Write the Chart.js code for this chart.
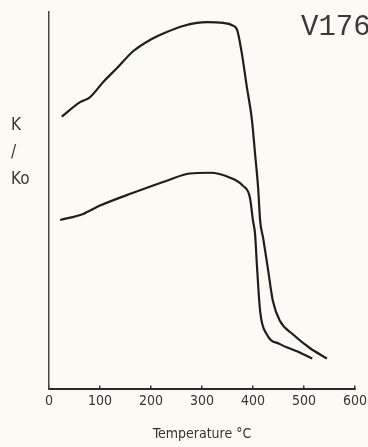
<!DOCTYPE html>
<html>
<head>
<meta charset="utf-8">
<script src="https://cdn.jsdelivr.net/npm/chart.js@4/dist/chart.umd.min.js"></script>
<style>
  html, body { margin: 0; padding: 0; background: #fbfaf5; }
  #wrap { position: relative; width: 368px; height: 447px; }
  canvas { position: absolute; left: 0; top: 0; }
  .lbl { position: absolute; color: #3a3a3a; white-space: nowrap; }
  #code { left: 301px; top: 11px; font-family: "Liberation Mono", "DejaVu Sans Mono", monospace; font-size: 29px; color: #3a3a3a; }
  #ylab { left: 11px; top: 111px; font-family: "DejaVu Sans Condensed", "DejaVu Sans", sans-serif; font-size: 17px; line-height: 27px; }
</style>
</head>
<body>
<div id="wrap">
  <canvas id="c" width="368" height="447"></canvas>
  <div class="lbl" id="code">V176</div>
  <div class="lbl" id="ylab">K<br>/<br>Ko</div>
</div>
<script>
// Temperature (°C) and relative susceptibility K/Ko
const upperTemp = [25, 61, 80, 106, 133, 165, 198, 231, 263, 290, 310, 341, 359, 369, 378, 388, 398, 404, 410, 414, 420, 429, 439, 453, 478, 512, 545];
const upperK    = [0.723, 0.761, 0.774, 0.814, 0.851, 0.896, 0.926, 0.947, 0.963, 0.971, 0.973, 0.971, 0.965, 0.952, 0.891, 0.801, 0.713, 0.625, 0.535, 0.447, 0.400, 0.322, 0.234, 0.181, 0.146, 0.109, 0.082];
const lowerTemp = [22, 67, 100, 165, 231, 276, 316, 355, 380, 394, 400, 404, 408, 414, 427, 453, 486, 516];
const lowerK    = [0.449, 0.465, 0.487, 0.521, 0.553, 0.572, 0.574, 0.561, 0.540, 0.508, 0.447, 0.412, 0.322, 0.207, 0.146, 0.120, 0.101, 0.082];
const xTicks = [0, 100, 200, 300, 400, 500, 600];

function pts(xs, ys) { return xs.map((x, i) => ({ x: x, y: ys[i] })); }

const lineStyle = { borderColor: '#1e1e1e', borderWidth: 2.2, pointRadius: 0, cubicInterpolationMode: 'monotone', fill: false };
const fontFam = "'DejaVu Sans Condensed', 'DejaVu Sans', sans-serif";

new Chart(document.getElementById('c'), {
  type: 'line',
  data: {
    datasets: [
      Object.assign({ label: 'upper', data: pts(upperTemp, upperK) }, lineStyle),
      Object.assign({ label: 'lower', data: pts(lowerTemp, lowerK) }, lineStyle)
    ]
  },
  options: {
    responsive: false,
    animation: false,
    layout: { padding: { left: 49, right: 13, top: 12, bottom: 4 } },
    plugins: { legend: { display: false }, tooltip: { enabled: false } },
    scales: {
      x: {
        type: 'linear',
        min: 0, max: 600,
        afterBuildTicks: (axis) => { axis.ticks = xTicks.map(v => ({ value: v })); },
        afterFit: (axis) => { axis.paddingRight = 0; axis.paddingLeft = 0; },
        grid: { drawOnChartArea: false, tickLength: -4, color: '#333', lineWidth: 1.5 },
        border: { color: '#2a2a2a', width: 2 },
        ticks: { color: '#333', padding: 8, font: { family: fontFam, size: 14 } },
        title: { display: true, text: 'Temperature °C', color: '#333', padding: { top: 8, bottom: 0 }, font: { family: fontFam, size: 14 } }
      },
      y: {
        min: 0, max: 1,
        ticks: { display: false },
        grid: { display: false, drawTicks: false },
        border: { color: '#444', width: 1.5 }
      }
    }
  }
});
</script>
</body>
</html>
